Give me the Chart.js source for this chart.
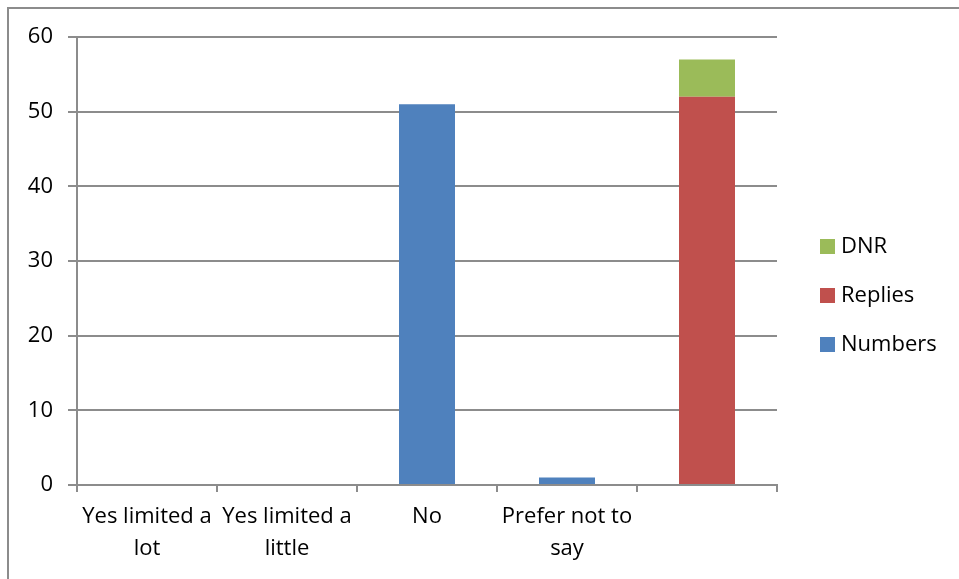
<!DOCTYPE html>
<html>
<head>
<meta charset="utf-8">
<script src="https://cdn.jsdelivr.net/npm/chart.js@4/dist/chart.umd.min.js"></script>
<style>
  html, body { margin: 0; padding: 0; background: #fff; }
  #frame { position: absolute; left: 7px; top: 7px; width: 960px; height: 580px;
           border-left: 2px solid #8c8c8c; border-top: 2px solid #8c8c8c; }
  #wrap { position: absolute; left: 0; top: 0; width: 959px; height: 579px; }
</style>
</head>
<body>
<div id="frame"></div>
<div id="wrap"><canvas id="myBarChart"></canvas></div>
<script>
// survey answers, stacked bar chart
const categories = [["Yes limited a", "lot"], ["Yes limited a", "little"], "No", ["Prefer not to", "say"], ""];
const numbers = [0, 0, 51, 1, 0];
const replies = [0, 0, 0, 0, 52];
const dnr = [0, 0, 0, 0, 5];
const yTicks = [0, 10, 20, 30, 40, 50, 60];

const FONT = "'Open Sans', 'Liberation Sans', sans-serif";
const GRID = "#8c8c8c";

// legend drawn by hand so it sits like the original (top item = last series)
const sideLegend = {
    id: "sideLegend",
    afterDraw(chart) {
        const ctx = chart.ctx;
        const sets = chart.data.datasets.slice().reverse();
        ctx.save();
        ctx.font = "22px " + FONT;
        ctx.textBaseline = "middle";
        sets.forEach((ds, i) => {
            const y = 246 + i * 49;
            ctx.fillStyle = ds.backgroundColor;
            ctx.fillRect(820, y - 7, 15, 15);
            ctx.fillStyle = "#000";
            ctx.fillText(ds.label, 841, y + 1);
        });
        ctx.restore();
    }
};

const ctx = document.getElementById("myBarChart").getContext("2d");

new Chart(ctx, {
    type: "bar",
    data: {
        labels: categories,
        datasets: [
            { label: "Numbers", data: numbers, backgroundColor: "#4f81bd" },
            { label: "Replies", data: replies, backgroundColor: "#c0504d" },
            { label: "DNR", data: dnr, backgroundColor: "#9bbb59" }
        ]
    },
    options: {
        responsive: true,
        maintainAspectRatio: false,
        animation: false,
        layout: { padding: { top: 37, right: 182, left: 0, bottom: 0 } },
        datasets: { bar: { categoryPercentage: 1, barPercentage: 0.4 } },
        plugins: { legend: { display: false }, tooltip: { enabled: false } },
        scales: {
            x: {
                stacked: true,
                grid: { offset: true, drawOnChartArea: false, drawTicks: true, tickLength: 7, color: GRID, lineWidth: 2 },
                border: { color: GRID, width: 2 },
                ticks: { color: "#000", font: { family: FONT, size: 22, lineHeight: 1.45 }, padding: 9, maxRotation: 0, autoSkip: false },
                afterFit(scale) { scale.height = 94; }
            },
            y: {
                stacked: true,
                min: 0,
                max: 60,
                afterBuildTicks(scale) { scale.ticks = yTicks.map(v => ({ value: v })); },
                grid: { color: GRID, lineWidth: 2, tickLength: 9 },
                border: { color: GRID, width: 2 },
                ticks: { color: "#000", font: { family: FONT, size: 22 }, padding: 15 },
                afterFit(scale) { scale.width = 77; }
            }
        }
    },
    plugins: [sideLegend]
});
</script>
</body>
</html>
